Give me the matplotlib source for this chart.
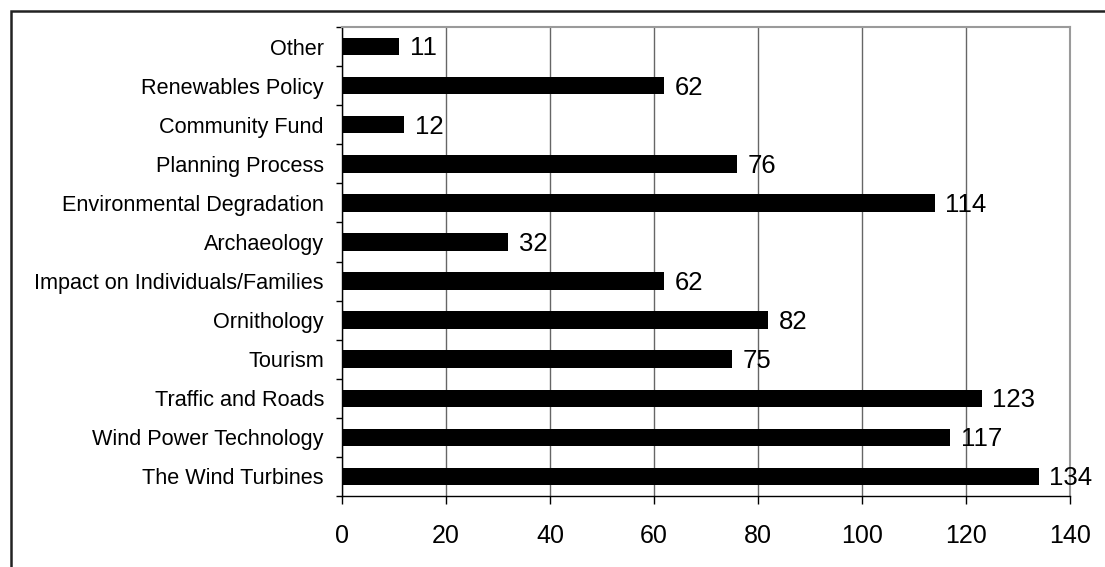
import numpy as np
import matplotlib.pyplot as plt
from matplotlib.patches import Rectangle

plt.rcParams['font.family'] = ['Liberation Sans', 'DejaVu Sans']

# Число упоминаний по темам (сверху вниз)
categories = ['Other', 'Renewables Policy', 'Community Fund', 'Planning Process',
              'Environmental Degradation', 'Archaeology', 'Impact on Individuals/Families',
              'Ornithology', 'Tourism', 'Traffic and Roads', 'Wind Power Technology',
              'The Wind Turbines']
counts = [11, 62, 12, 76, 114, 32, 62, 82, 75, 123, 117, 134]
x_ticks = [0, 20, 40, 60, 80, 100, 120, 140]

fig = plt.figure(figsize=(11.05, 5.67), dpi=100)
ax = fig.add_axes([0.3095, 0.1252, 0.6588, 0.8272])

y = np.arange(len(categories))
ax.barh(y, counts, height=0.45, color='black', zorder=3)

# Подписи значений справа от столбиков
for yi, v in zip(y, counts):
    ax.text(v + 2.0, yi + 0.05, str(v), va='center', ha='left', fontsize=18.5, zorder=4)

ax.set_xlim(0, 140)
ax.set_ylim(len(categories) - 0.5, -0.5)
ax.set_xticks(x_ticks)
ax.set_yticks(y)
ax.set_yticklabels(categories, fontsize=15.6)
ax.set_yticks(np.arange(len(categories) + 1) - 0.5, minor=True)

ax.tick_params(axis='y', which='major', length=0, pad=13)
ax.tick_params(axis='y', which='minor', length=4, width=1, direction='out')
ax.tick_params(axis='x', labelsize=18, length=6, width=1, direction='out', pad=14)

ax.grid(axis='x', color='#666666', linewidth=1.0, zorder=0)
ax.set_axisbelow(True)

for side in ['top', 'right']:
    ax.spines[side].set_color('#9a9a9a')
    ax.spines[side].set_linewidth(1.5)
ax.spines['left'].set_color('black')
ax.spines['bottom'].set_color('black')
ax.spines['left'].set_linewidth(1)
ax.spines['bottom'].set_linewidth(1)

# Рамка вокруг всей диаграммы
frame = Rectangle((10.5 / 1105, -0.5), 1.5, 1.5 - 11 / 567,
                  transform=fig.transFigure, fill=False,
                  edgecolor='#222222', linewidth=1.8)
fig.patches.append(frame)

fig.savefig('out.png', dpi=100)
